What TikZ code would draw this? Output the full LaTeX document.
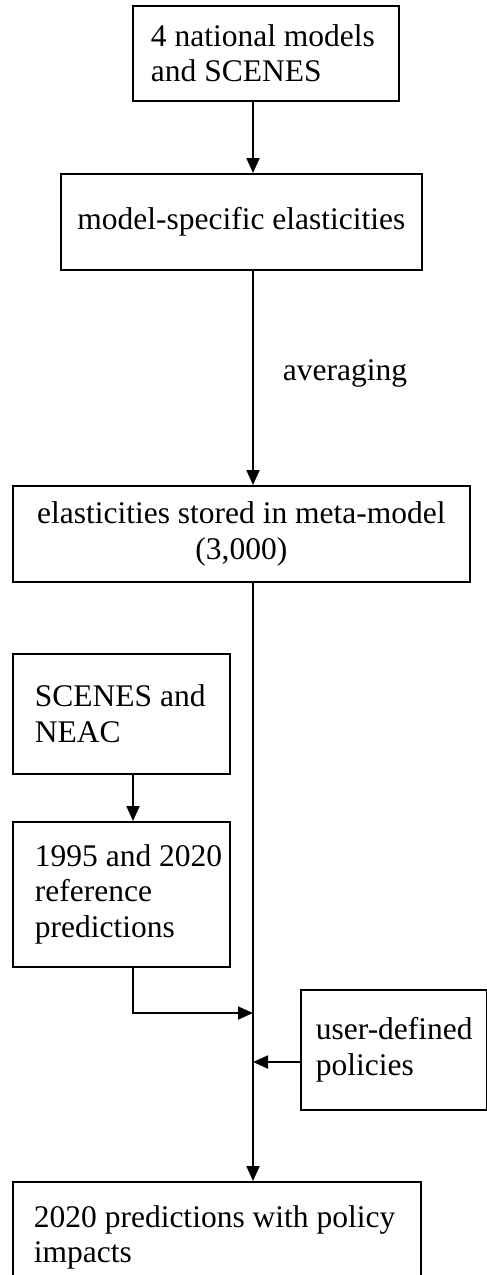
\documentclass[tikz,border=0pt]{standalone}
\usepackage{fontspec}
\setmainfont{Liberation Serif}
\usetikzlibrary{arrows.meta, positioning, calc}

\begin{document}
\begin{tikzpicture}[x=1pt, y=-1pt,
    font=\fontsize{31.5}{35.5}\selectfont,
    box/.style={draw, line width=1.8pt, inner ysep=0pt, anchor=north west},
    flow/.style={line width=1.8pt, -{Triangle[length=15pt, width=13pt]}}]
  \clip (0,0) rectangle (487,1275);

  % main spine and the side branch
  \coordinate (spine) at (253,0);
  \coordinate (sub) at (133,0);

  \node[box, inner xsep=18pt, text width=230pt, minimum height=95pt, align=flush left]
    (national) at (132,5) {4 national models\\and SCENES};
  \node[box, inner xsep=10pt, text width=341pt, minimum height=96pt, align=flush center]
    (specific) at (60,173) {model-specific elasticities};
  \node[box, inner xsep=10pt, text width=437pt, minimum height=96pt, align=flush center]
    (stored) at (12,485) {elasticities stored in meta-model\\(3,000)};
  \node[box, inner xsep=22pt, text width=173pt, minimum height=120pt, align=flush left]
    (scenes) at (12,653) {\mbox{SCENES and}\\NEAC};
  \node[box, inner xsep=22pt, text width=173pt, minimum height=145pt, align=flush left]
    (refpred) at (12,821) {\mbox{1995 and 2020}\\reference\\predictions};
  \node[box, inner xsep=15pt, text width=156pt, minimum height=120pt, align=flush left]
    (policy) at (300,989) {\mbox{user-defined}\\policies};
  \node[box, inner xsep=21pt, text width=366pt, minimum height=111pt, align=flush left]
    (final) at (12,1181) {\mbox{2020 predictions with policy}\\impacts};

  \draw[flow] (national.south -| spine) -- (specific.north -| spine);
  \draw[flow] (specific.south -| spine) --
    node[pos=0.477, right=29pt, inner sep=0pt] (avglabel) {averaging}
    (stored.north -| spine);
  \draw[flow] (stored.south -| spine) -- (final.north -| spine);
  \draw[flow] (scenes.south -| sub) -- (refpred.north -| sub);

  % inputs joining the spine
  \coordinate (joinref) at (253,1013);
  \coordinate (joinpol) at (253,1062);
  \draw[flow] (refpred.south -| sub) |- (joinref);
  \draw[flow] (policy.west |- joinpol) -- (joinpol);
\end{tikzpicture}
\end{document}
